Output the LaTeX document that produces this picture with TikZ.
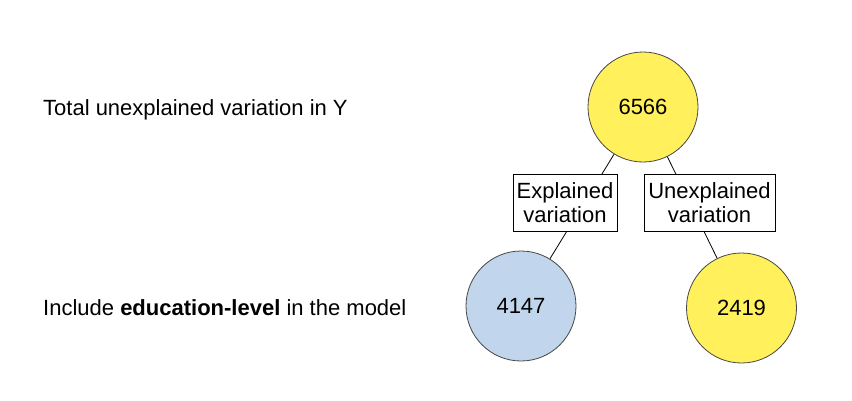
\documentclass[tikz,border=0pt]{standalone}
\usepackage{fontspec}
\setmainfont{Liberation Sans}
\definecolor{cyel}{RGB}{255,240,92}
\definecolor{cblue}{RGB}{193,214,236}
\definecolor{cline}{RGB}{70,70,70}
\begin{document}
\begin{tikzpicture}[x=1pt,y=-1pt,
  every node/.style={font=\fontsize{22}{24.5}\selectfont},
  bubble/.style={circle,draw=cline,line width=0.8pt,minimum size=110pt,inner sep=0pt},
  labelbox/.style={rectangle,draw=black,line width=0.8pt,fill=white,align=center,minimum height=57pt,inner sep=2pt},
  caption/.style={anchor=base west,inner sep=0pt},
  link/.style={draw=black,line width=0.8pt}]
\useasboundingbox (0,0) rectangle (852,400);
\node[caption] (t1) at (43,115) {Total unexplained variation in Y};
\node[caption] (t2) at (43,315) {Include \textbf{education-level} in the model};
\node[bubble,fill=cyel] (top) at (643,107) {6566};
\node[bubble,fill=cblue] (bl) at (521,306) {4147};
\node[bubble,fill=cyel] (br) at (741.5,308) {2419};
\draw[link] (top) -- (bl);
\draw[link] (top) -- (br);
\node[labelbox,minimum width=104pt] (ex) at (565,202.5) {Explained\\variation};
\node[labelbox,minimum width=131pt] (ux) at (709.5,202.5) {Unexplained\\variation};
\end{tikzpicture}
\end{document}
